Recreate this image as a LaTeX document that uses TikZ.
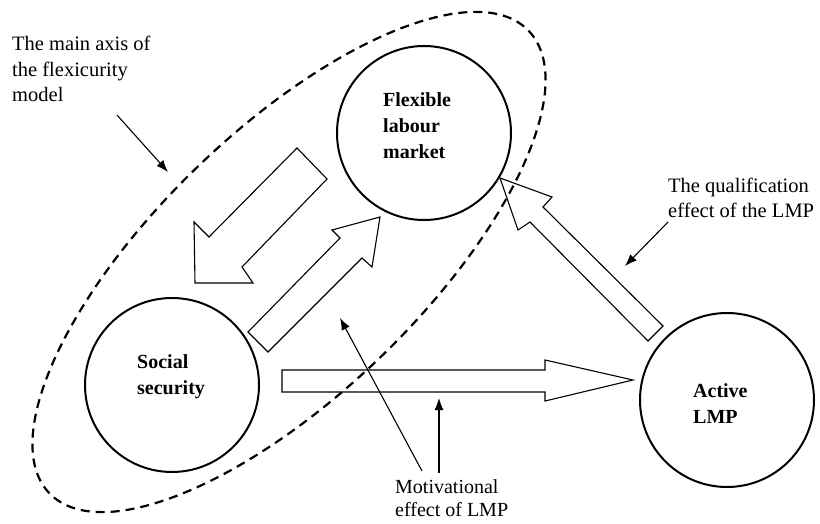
\documentclass[tikz,border=0pt]{standalone}
\usepackage{fontspec}
\setmainfont{Liberation Serif}
\usetikzlibrary{arrows.meta}
\begin{document}
\begin{tikzpicture}[x=1pt,y=-1pt,
  ring/.style={circle,draw,line width=2pt,minimum size=174pt,inner sep=0pt},
  lbl/.style={font=\fontsize{20}{26}\selectfont\bfseries,align=left,anchor=west,inner sep=0pt},
  note/.style={font=\fontsize{20.5}{25.5}\selectfont,align=left,anchor=west,inner sep=0pt},
  hollow/.style={draw,line width=1.1pt,line join=miter},
  pointer/.style={line width=1.1pt,-{Latex[length=12pt,width=9pt]}},
  axisline/.style={line width=2.2pt,dash pattern=on 9pt off 6pt}
]
\useasboundingbox (0,0) rectangle (820,524);

% dashed main axis
\draw[axisline,rotate around={44:(289,262)}] (289,262) ellipse [x radius=333,y radius=132];

% circles
\node[ring] (flm) at (424,133) {};
\node[ring] (ss) at (172,385) {};
\node[ring] (lmp) at (727,400) {};

% circle labels
\node[lbl] (flmtext) at (383,126) {Flexible\\labour\\market};
\node[lbl] (sstext) at (137,377) {Social\\security};
\node[lbl] (lmptext) at (693,404) {Active\\LMP};

% hollow arrows
\draw[hollow] (297,148) -- (327,179) -- (242,267) -- (253,283) -- (195,283) -- (194,222) -- (209,237) -- cycle;
\draw[hollow] (268,352) -- (248,332) -- (340,238) -- (332,230) -- (380,217) -- (372,267) -- (362,258) -- cycle;
\draw[hollow] (500,178) -- (552,197) -- (543,207) -- (663,326) -- (648,341) -- (530,222) -- (518,230) -- cycle;
\draw[hollow] (282,370) -- (545,370) -- (545,360) -- (633,380) -- (545,401) -- (545,392) -- (282,392) -- cycle;

% annotations
\node[note] (axisnote) at (12,69) {The main axis of\\the flexicurity\\model};
\node[note] (qualnote) at (668,198) {The qualification\\effect of the LMP};
\node[note,anchor=south west,font=\fontsize{20}{23}\selectfont] (motnote) at (395,517) {Motivational\\effect of LMP};

\coordinate (axisfrom) at (117,115);
\coordinate (axisto) at (168,172);
\coordinate (qualfrom) at (668,222);
\coordinate (qualto) at (625,266);
\coordinate (motfromA) at (439,473);
\coordinate (mottoA) at (439,398);
\coordinate (motfromB) at (422,471);
\coordinate (mottoB) at (340,318);

\draw[pointer] (axisfrom) -- (axisto);
\draw[pointer] (qualfrom) -- (qualto);
\draw[pointer] (motfromA) -- (mottoA);
\draw[pointer] (motfromB) -- (mottoB);
\end{tikzpicture}
\end{document}
